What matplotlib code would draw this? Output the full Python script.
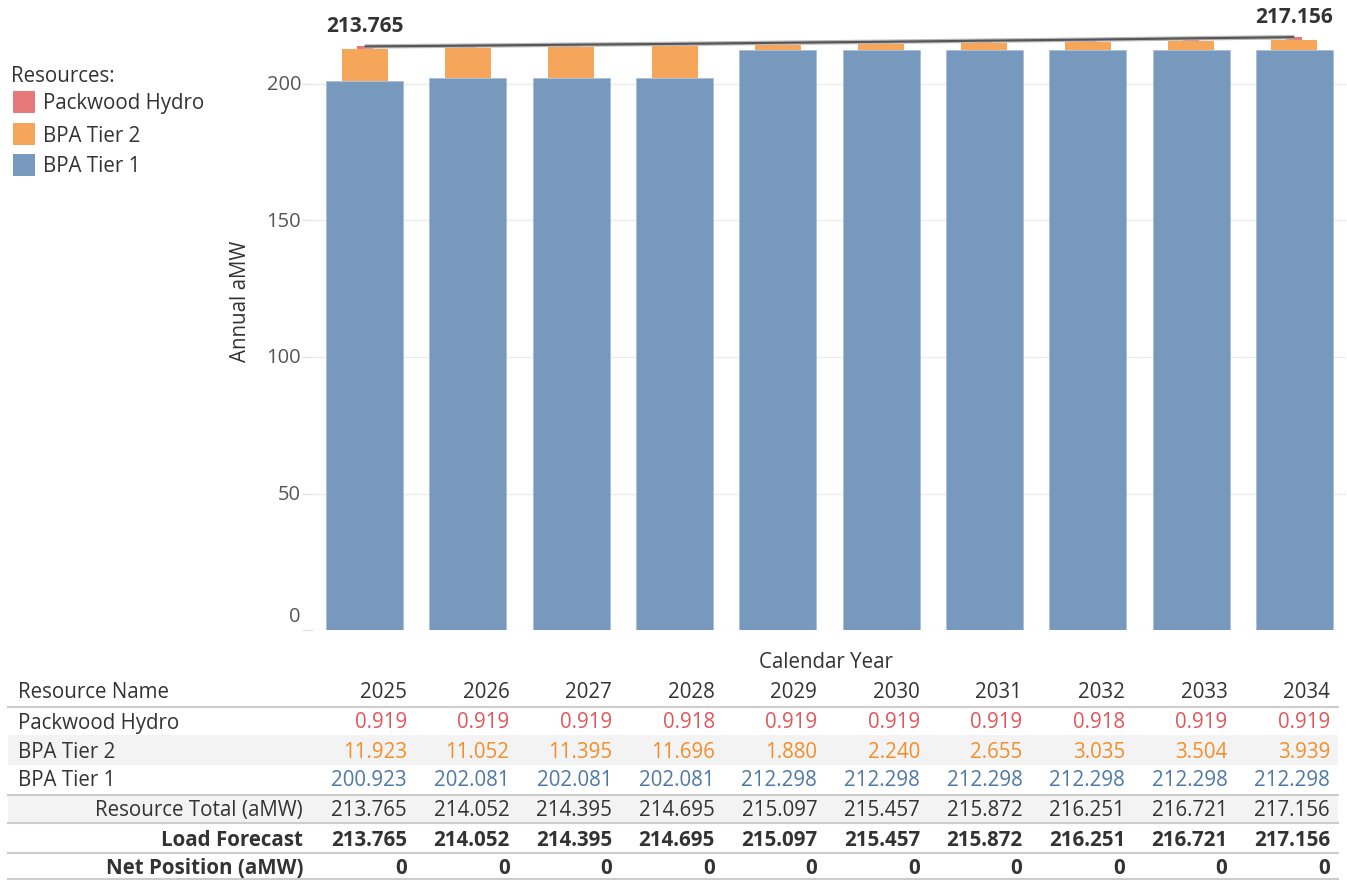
import matplotlib
matplotlib.use("Agg")
import matplotlib.pyplot as plt
import matplotlib.transforms as mtransforms
from matplotlib.patches import Rectangle
from matplotlib.lines import Line2D
import numpy as np

plt.rcParams['font.family'] = ['Open Sans', 'DejaVu Sans']

years = [2025, 2026, 2027, 2028, 2029, 2030, 2031, 2032, 2033, 2034]
packwood_hydro = [0.919, 0.919, 0.919, 0.918, 0.919, 0.919, 0.919, 0.918, 0.919, 0.919]
bpa_tier2 = [11.923, 11.052, 11.395, 11.696, 1.880, 2.240, 2.655, 3.035, 3.504, 3.939]
bpa_tier1 = [200.923, 202.081, 202.081, 202.081, 212.298, 212.298, 212.298, 212.298, 212.298, 212.298]
resource_total = [213.765, 214.052, 214.395, 214.695, 215.097, 215.457, 215.872, 216.251, 216.721, 217.156]
load_forecast = [213.765, 214.052, 214.395, 214.695, 215.097, 215.457, 215.872, 216.251, 216.721, 217.156]
net_position = [0, 0, 0, 0, 0, 0, 0, 0, 0, 0]
y_ticks = [0, 50, 100, 150, 200]

C_BLUE = '#7799bd'
C_ORANGE = '#f5a65b'
C_RED = '#e8797b'
T_BLUE = '#4e79a7'
T_ORANGE = '#f28e2b'
T_RED = '#e15759'
TXT = '#333333'
FS = 14.8
DY = 2  # text vertical nudge (px)

W, H = 1347, 880
fig = plt.figure(figsize=(W / 100, H / 100), dpi=100)

def fx(p):
    return p / W

def fy(p):
    return 1 - p / H

ax = fig.add_axes([fx(313), fy(630), fx(1346) - fx(313), 630 / H])
x = np.arange(len(years))
t1 = np.array(bpa_tier1)
t2 = np.array(bpa_tier2)
ph = np.array(packwood_hydro)

b1 = ax.bar(x, t1, width=0.745, color=C_BLUE, edgecolor='#a9bdd4', linewidth=0.6, zorder=2)
b2 = ax.bar(x, t2, bottom=t1, width=0.445, color=C_ORANGE, zorder=2)
b3 = ax.bar(x, ph, bottom=t1 + t2, width=0.155, color=C_RED, zorder=2)
ax.plot(x, load_forecast, color='#b8b8b8', lw=3.2, zorder=3, solid_capstyle='butt')
ax.plot(x, load_forecast, color='#555555', lw=1.5, zorder=4, solid_capstyle='butt')

for i in (0, len(years) - 1):
    ax.annotate(f"{load_forecast[i]:.3f}", (x[i], load_forecast[i]), xytext=(0, 14),
                textcoords='offset points', ha='center', va='center',
                fontsize=15, fontweight='bold', color=TXT)

ax.set_xlim(-0.5, len(years) - 0.5)
ax.set_ylim(0, 630 / 2.73)
for s in ax.spines.values():
    s.set_visible(False)
ax.set_xticks([])
ax.set_yticks(y_ticks)
ax.set_yticklabels([])
ax.tick_params(axis='y', length=8, color='#e3e3e3', width=1)
ax.grid(axis='y', color='#ececec', lw=1, zorder=0)
ax.set_axisbelow(True)

lbl_tr = mtransforms.blended_transform_factory(fig.transFigure, ax.transData)
for v in y_ticks:
    if v == 0:
        ax.text(fx(301), v, str(v), transform=lbl_tr + mtransforms.ScaledTranslation(0, 3 / 100, fig.dpi_scale_trans),
                ha='right', va='bottom', fontsize=14.5, color='#555555')
    else:
        ax.text(fx(301), v, str(v), transform=lbl_tr + mtransforms.ScaledTranslation(0, -1 / 100, fig.dpi_scale_trans),
                ha='right', va='center', fontsize=14.5, color='#555555')

fig.text(fx(240), fy(301), 'Annual aMW', rotation=90, ha='center', va='center', fontsize=14.8, color=TXT)

# legend
fig.text(fx(11), fy(75 + DY), 'Resources:', ha='left', va='center', fontsize=FS, color=TXT)
leg_items = [('Packwood Hydro', C_RED, 102), ('BPA Tier 2', C_ORANGE, 134), ('BPA Tier 1', C_BLUE, 165)]
for name, col, yc in leg_items:
    fig.patches.append(Rectangle((fx(13), fy(yc + 11)), fx(22), 22 / H, transform=fig.transFigure,
                                 facecolor=col, edgecolor='none'))
    fig.text(fx(43), fy(yc + DY), name, ha='left', va='center', fontsize=FS, color=TXT)

# x-axis title
fig.text(fx(826), fy(660 + DY), 'Calendar Year', ha='center', va='center', fontsize=FS, color=TXT)

# table
for top, bot in [(735, 765), (795, 823)]:
    fig.patches.append(Rectangle((fx(8), fy(bot)), fx(1338) - fx(8), (bot - top) / H,
                                 transform=fig.transFigure, facecolor='#f3f3f3', edgecolor='none', zorder=0))
for yl in [707, 795, 823, 853, 879]:
    fig.add_artist(Line2D([fx(8), fx(1338)], [fy(yl), fy(yl)], color='#cccccc', lw=1.5))

col_right = [407 + i * 102.56 for i in range(len(years))]
fig.text(fx(18), fy(691 + DY), 'Resource Name', ha='left', va='center', fontsize=FS, color=TXT)
for i, yr in enumerate(years):
    fig.text(fx(col_right[i]), fy(691 + DY), str(yr), ha='right', va='center', fontsize=FS, color=TXT)

rows = [
    ('Packwood Hydro', packwood_hydro, T_RED, 'left', 'normal', 721, '{:.3f}'),
    ('BPA Tier 2', bpa_tier2, T_ORANGE, 'left', 'normal', 750, '{:.3f}'),
    ('BPA Tier 1', bpa_tier1, T_BLUE, 'left', 'normal', 779, '{:.3f}'),
    ('Resource Total (aMW)', resource_total, TXT, 'right', 'normal', 808, '{:.3f}'),
    ('Load Forecast', load_forecast, TXT, 'right', 'bold', 838, '{:.3f}'),
    ('Net Position (aMW)', net_position, TXT, 'right', 'bold', 866, '{:d}'),
]
for name, vals, col, align, wt, yc, fmt in rows:
    lx = 18 if align == 'left' else 303
    fig.text(fx(lx), fy(yc + DY), name, ha=align, va='center', fontsize=FS, color=TXT,
             fontweight=('bold' if wt == 'bold' else 'normal'))
    for i, v in enumerate(vals):
        fig.text(fx(col_right[i]), fy(yc + DY), fmt.format(v), ha='right', va='center', fontsize=FS,
                 color=col, fontweight=wt)

fig.savefig('out.png', dpi=100, facecolor='white')
